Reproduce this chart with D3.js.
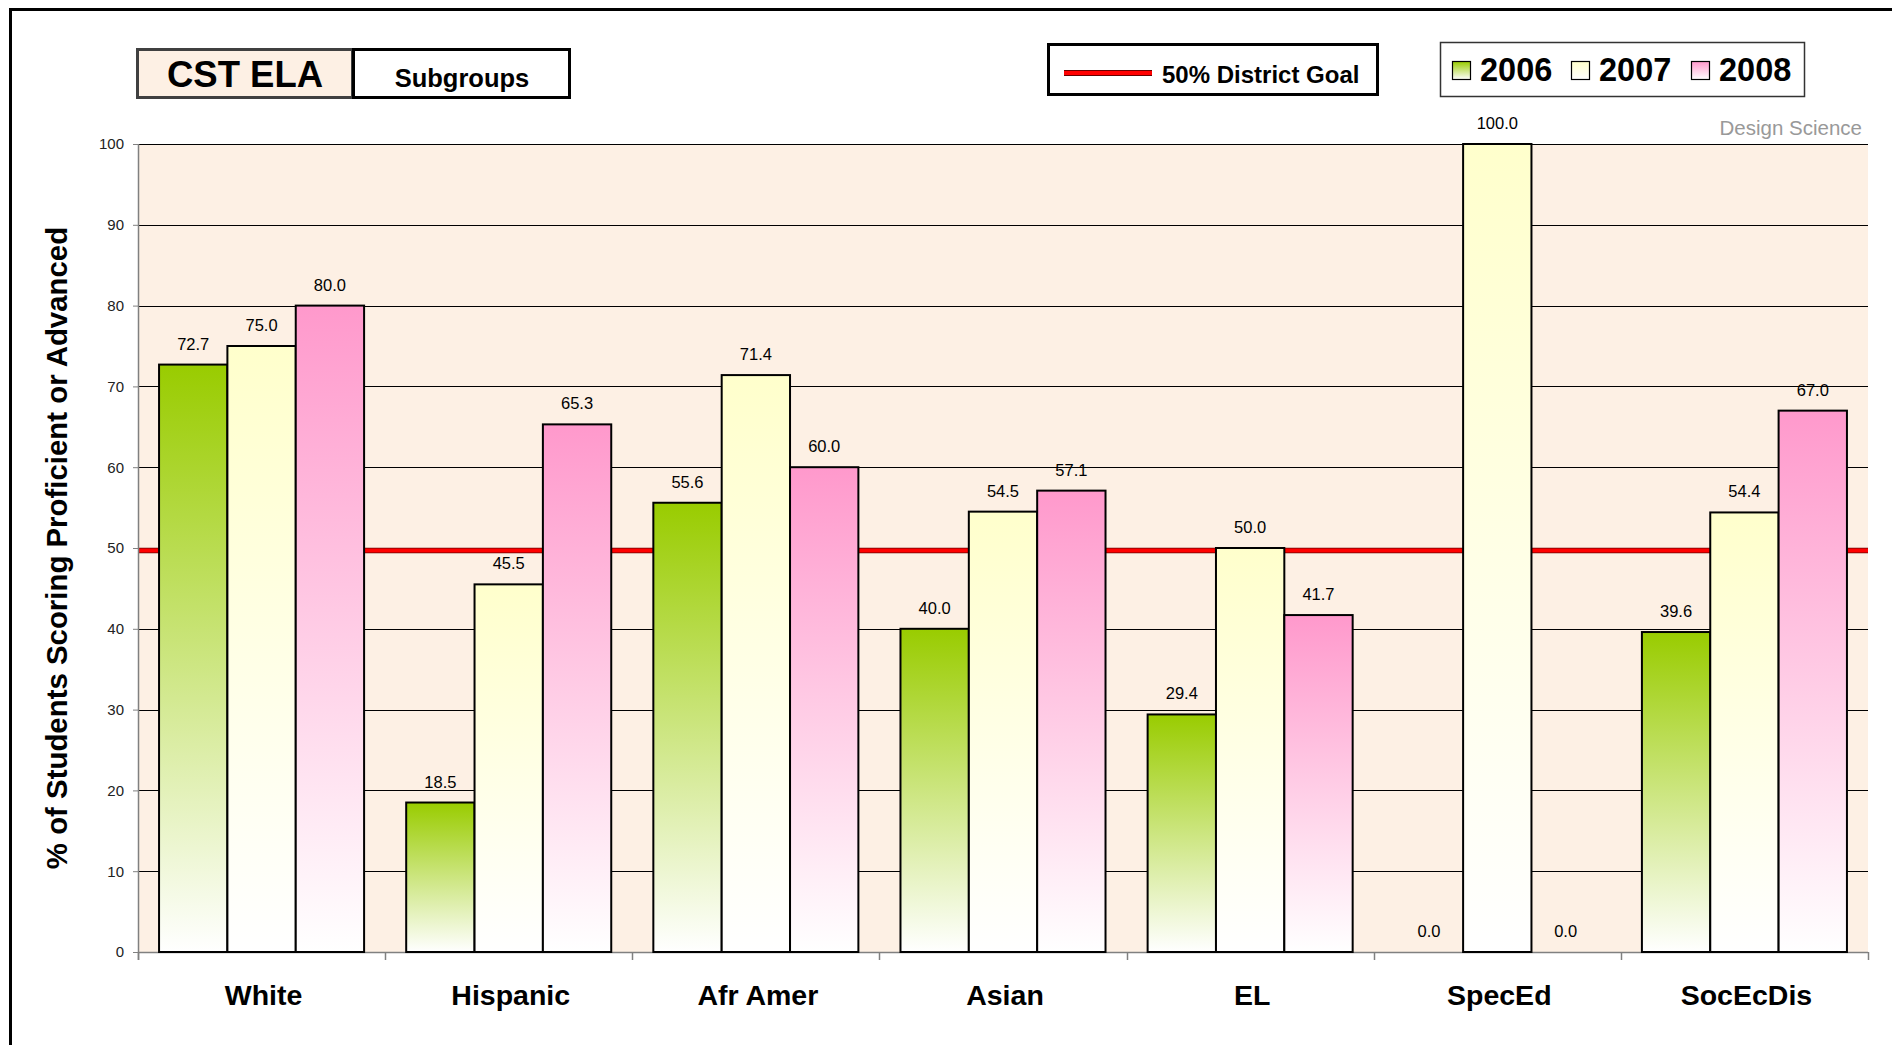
<!DOCTYPE html>
<html>
<head>
<meta charset="utf-8">
<script src="https://cdn.jsdelivr.net/npm/d3@7"></script>
<style>
  html, body { margin: 0; padding: 0; background: #ffffff; }
  svg { display: block; font-family: "Liberation Sans", Arial, sans-serif; }
</style>
</head>
<body>
<svg id="chart" width="1892" height="1045"></svg>
<script>
// ---- data ----
const categories = ["White", "Hispanic", "Afr Amer", "Asian", "EL", "SpecEd", "SocEcDis"];
const years = ["2006", "2007", "2008"];
const values2006 = [72.7, 18.5, 55.6, 40.0, 29.4, 0.0, 39.6];
const values2007 = [75.0, 45.5, 71.4, 54.5, 50.0, 100.0, 54.4];
const values2008 = [80.0, 65.3, 60.0, 57.1, 41.7, 0.0, 67.0];
const yTicks = [0, 10, 20, 30, 40, 50, 60, 70, 80, 90, 100];
const goalValue = 50;
const titleMain = "CST ELA";
const titleSub = "Subgroups";
const goalLabel = "50% District Goal";
const yAxisTitle = "% of Students Scoring Proficient or Advanced";
const credit = "Design Science";

const seriesValues = [values2006, values2007, values2008];
const yearColors = ["#99cc00", "#ffffcc", "#ff99cc"];

// ---- layout ----
const plot = { left: 138, right: 1868, top: 144, bottom: 952 };
const bg = "#fdf0e4";

const svg = d3.select("#chart");
const defs = svg.append("defs");

years.forEach((y, i) => {
  const g = defs.append("linearGradient")
    .attr("id", "grad" + y).attr("x1", 0).attr("y1", 0).attr("x2", 0).attr("y2", 1);
  g.append("stop").attr("offset", "0%").attr("stop-color", yearColors[i]);
  g.append("stop").attr("offset", "100%").attr("stop-color", "#ffffff");
});

// outer frame
svg.append("rect").attr("x", 10.5).attr("y", 9.5).attr("width", 2000).attr("height", 2000)
  .attr("fill", "none").attr("stroke", "#000").attr("stroke-width", 3);

// scales
const x = d3.scaleBand().domain(categories).range([plot.left, plot.right]).paddingInner(0).paddingOuter(0);
const xInner = d3.scaleBand().domain(years).range([0, x.bandwidth()]).paddingInner(0).paddingOuter(0.308);
const y = d3.scaleLinear().domain([0, 100]).range([plot.bottom, plot.top]);

// plot background
svg.append("rect").attr("x", plot.left).attr("y", plot.top)
  .attr("width", plot.right - plot.left).attr("height", plot.bottom - plot.top).attr("fill", bg);

// gridlines
svg.append("g").selectAll("line").data(yTicks.filter(t => t > 0)).join("line")
  .attr("x1", plot.left).attr("x2", plot.right)
  .attr("y1", d => Math.round(y(d)) + 0.5).attr("y2", d => Math.round(y(d)) + 0.5)
  .attr("stroke", "#000").attr("stroke-width", 1);

// goal line (behind bars)
svg.append("line").attr("x1", plot.left).attr("x2", plot.right)
  .attr("y1", y(goalValue) + 2.5).attr("y2", y(goalValue) + 2.5)
  .attr("stroke", "#6a0000").attr("stroke-width", 5.5);
svg.append("line").attr("x1", plot.left).attr("x2", plot.right)
  .attr("y1", y(goalValue) + 2.5).attr("y2", y(goalValue) + 2.5)
  .attr("stroke", "#ff0000").attr("stroke-width", 4);

// y axis
const yAxis = d3.axisLeft(y).tickValues(yTicks).tickSize(5).tickPadding(9).tickFormat(d3.format("d"));
const gy = svg.append("g").attr("transform", `translate(${plot.left},0)`).call(yAxis);
gy.select(".domain").attr("stroke", "#808080").attr("stroke-width", 1.5)
  .attr("d", `M0.5,${plot.top}V${plot.bottom + 8}`);
gy.selectAll(".tick line").attr("stroke", "#808080");
gy.selectAll(".tick text").attr("font-size", 15).attr("fill", "#222")
  .attr("font-family", "'Liberation Sans', Arial, sans-serif");

// x axis
const xAxis = d3.axisBottom(x).tickSize(0).tickPadding(0).tickFormat("");
const gx = svg.append("g").attr("transform", `translate(0,${plot.bottom})`).call(xAxis);
gx.select(".domain").attr("stroke", "#808080").attr("stroke-width", 1.5)
  .attr("d", `M${plot.left},0.5H${plot.right}`);
const boundaries = categories.map(c => x(c)).concat([plot.right]);
svg.append("g").selectAll("line").data(boundaries).join("line")
  .attr("x1", d => Math.round(d) + 0.5).attr("x2", d => Math.round(d) + 0.5)
  .attr("y1", plot.bottom).attr("y2", plot.bottom + 8)
  .attr("stroke", "#808080").attr("stroke-width", 1.5);

// category labels
svg.append("g").selectAll("text").data(categories).join("text")
  .attr("x", d => x(d) + x.bandwidth() / 2 + 2).attr("y", 1005)
  .attr("text-anchor", "middle").attr("font-size", 28.5).attr("font-weight", "bold")
  .attr("fill", "#000").text(d => d);

// bars
const barData = [];
categories.forEach((c, ci) => {
  years.forEach((yr, yi) => barData.push({ cat: c, year: yr, value: seriesValues[yi][ci] }));
});

svg.append("g").selectAll("rect").data(barData.filter(d => d.value > 0)).join("rect")
  .attr("x", d => x(d.cat) + xInner(d.year))
  .attr("y", d => y(d.value))
  .attr("width", xInner.bandwidth())
  .attr("height", d => y(0) - y(d.value))
  .attr("fill", d => `url(#grad${d.year})`)
  .attr("stroke", "#000").attr("stroke-width", 2);

// value labels
svg.append("g").selectAll("text").data(barData).join("text")
  .attr("x", d => x(d.cat) + xInner(d.year) + xInner.bandwidth() / 2)
  .attr("y", d => y(d.value) - 15)
  .attr("text-anchor", "middle").attr("font-size", 16.5).attr("fill", "#000")
  .text(d => d3.format(".1f")(d.value));

// y axis title
svg.append("text")
  .attr("transform", `translate(67,${(plot.top + plot.bottom) / 2}) rotate(-90)`)
  .attr("text-anchor", "middle").attr("font-size", 29.4).attr("font-weight", "bold")
  .attr("fill", "#000").text(yAxisTitle);

// credit
svg.append("text").attr("x", 1862).attr("y", 135).attr("text-anchor", "end")
  .attr("font-size", 20.5).attr("fill", "#999").text(credit);

// title boxes
svg.append("rect").attr("x", 137.5).attr("y", 49.5).attr("width", 215).attr("height", 48)
  .attr("fill", bg).attr("stroke", "#404040").attr("stroke-width", 3);
svg.append("rect").attr("x", 353.5).attr("y", 49.5).attr("width", 216).attr("height", 48)
  .attr("fill", "#fff").attr("stroke", "#000").attr("stroke-width", 3);
svg.append("text").attr("x", 245).attr("y", 87).attr("text-anchor", "middle")
  .attr("font-size", 36.5).attr("font-weight", "bold").text(titleMain);
svg.append("text").attr("x", 462).attr("y", 87).attr("text-anchor", "middle")
  .attr("font-size", 25.5).attr("font-weight", "bold").text(titleSub);

// goal legend
svg.append("rect").attr("x", 1048.5).attr("y", 44.5).attr("width", 329).attr("height", 50)
  .attr("fill", "#fff").attr("stroke", "#000").attr("stroke-width", 3);
svg.append("line").attr("x1", 1064).attr("x2", 1152).attr("y1", 73).attr("y2", 73)
  .attr("stroke", "#6a0000").attr("stroke-width", 6);
svg.append("line").attr("x1", 1064).attr("x2", 1152).attr("y1", 73).attr("y2", 73)
  .attr("stroke", "#ff0000").attr("stroke-width", 4);
svg.append("text").attr("x", 1162).attr("y", 83).attr("font-size", 24).attr("font-weight", "bold")
  .text(goalLabel);

// year legend
svg.append("rect").attr("x", 1440.5).attr("y", 42.5).attr("width", 364).attr("height", 54)
  .attr("fill", "#fff").attr("stroke", "#333").attr("stroke-width", 1.5);
const legX = [1452, 1571, 1691];
const lg = svg.append("g").selectAll("g").data(years).join("g")
  .attr("transform", (d, i) => `translate(${legX[i]},0)`);
lg.append("rect").attr("x", 0.5).attr("y", 61.5).attr("width", 18).attr("height", 18)
  .attr("fill", d => `url(#grad${d})`).attr("stroke", "#000").attr("stroke-width", 1.2);
lg.append("text").attr("x", 28).attr("y", 81).attr("font-size", 32.5).attr("font-weight", "bold")
  .text(d => d);
</script>
</body>
</html>
